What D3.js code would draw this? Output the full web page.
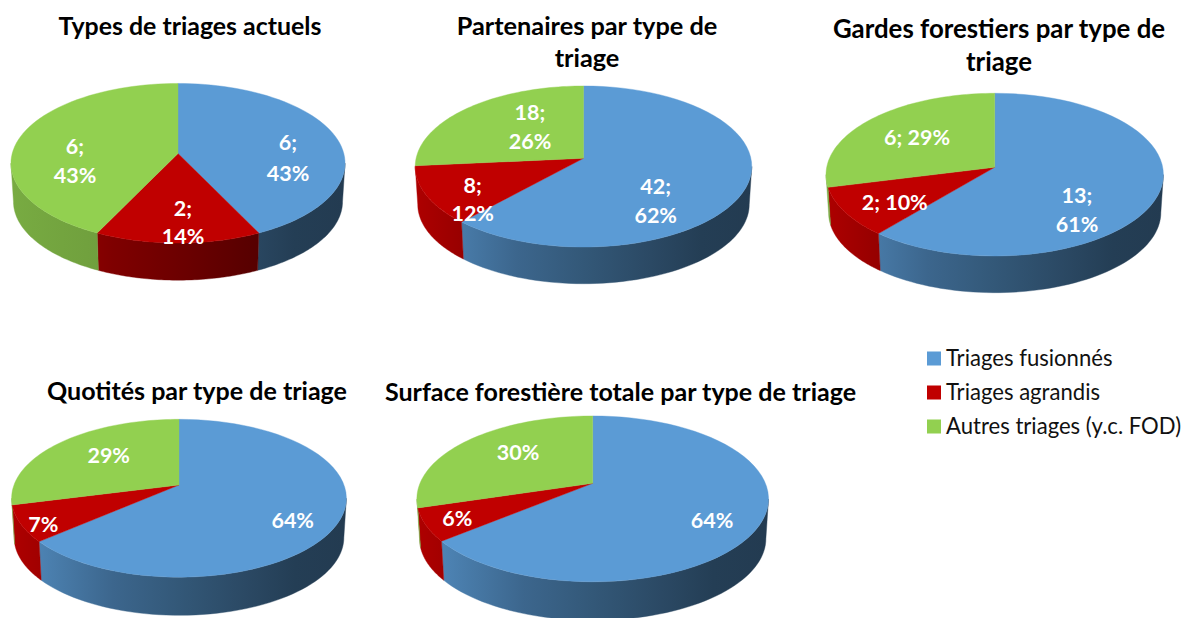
<!DOCTYPE html>
<html><head><meta charset="utf-8">
<script src="https://cdn.jsdelivr.net/npm/d3@7/dist/d3.min.js"></script>
<style>html,body{margin:0;padding:0;background:#fff}svg{display:block}text{font-family:Lato,"Open Sans",sans-serif}</style>
</head><body><svg id="c" width="1184" height="618"></svg>
<script>
const categories = ["Triages fusionnés", "Triages agrandis", "Autres triages (y.c. FOD)"];
const colors = ["#5b9bd5", "#c00000", "#92d050"];
const valuesTypes = [6, 2, 6];
const valuesPartenaires = [42, 8, 18];
const valuesGardes = [12.9, 2.1, 6.1];
const valuesQuotites = [63.6, 7.4, 29];
const valuesSurface = [64, 6.3, 29.7];

const charts = [
 {values:valuesTypes, title:["Types de triages actuels"], tx:190, ty:[26], ts:24.9,
  cx:178, cy:153.5, R:165.8, S:78.6, k:.122, d:38.5,
  labels:[[[288,142,"v;"],[288,173,"p"]],[[183,208,"v;"],[183,236,"p"]],[[75,146,"v;"],[75,175,"p"]]]},
 {values:valuesPartenaires, title:["Partenaires par type de","triage"], tx:587, ty:[26,58], ts:25.3,
  cx:583.5, cy:158.3, R:167.4, S:79.7, k:.102, d:38,
  labels:[[[655.7,186.7,"v;"],[655.7,215,"p"]],[[472.7,185,"v;"],[472.7,213,"p"]],[[530,112.7,"v;"],[530,141,"p"]]]},
 {values:valuesGardes, title:["Gardes forestiers par type de","triage"], tx:999, ty:[29,62], ts:25.8,
  cx:994.7, cy:167.3, R:168, S:80.7, k:.0903, d:38,
  labels:[[[1077,195,"v;"],[1077,224,"p"]],[[894.7,202.7,"v; p"]],[[917,137,"v; p"]]]},
 {values:valuesQuotites, title:["Quotités par type de triage"], tx:197, ty:[391], ts:25.05,
  cx:179, cy:485, R:165, S:76.7, k:.168, d:39.5,
  labels:[[[292.7,520.7,"p"]],[[43.3,524.3,"p"]],[[108.7,455,"p"]]]},
 {values:valuesSurface, title:["Surface forestière totale par type de triage"], tx:620.5, ty:[392], ts:25.06,
  cx:592.7, cy:483.3, R:172.7, S:80, k:.188, d:40,
  labels:[[[712,520.7,"p"]],[[457.3,518.7,"p"]],[[518,452.7,"p"]]]}
];

const svg = d3.select("#c");
const defs = svg.append("defs");
const pieGen = d3.pie().sort(null);
const shadeDark = d3.scaleLinear().domain([0,.3,.85,1]).range([.9,.66,.40,.38]);
const shadeGreen = d3.scaleLinear().domain([0,.3,.85,1]).range([.82,.76,.45,.42]);
const wallShade = [shadeDark, shadeDark, shadeGreen];

charts.forEach((c,ci)=>{
  const arcs = pieGen(c.values);
  const total = d3.sum(c.values);
  const xs = d3.scaleLinear().domain([-1,1]).range([c.cx-c.R,c.cx+c.R]);
  const ys = d3.scaleLinear().domain([-1,1]).range([c.cy+c.S,c.cy-c.S]);
  // Perspective projection of the unit circle at clockwise angle a
  const proj = (a,r=1,lift=0,scale=1)=>{
    const u=r*Math.sin(a), v=r*Math.cos(a), w=1+c.k*v;
    return [c.cx+(xs(u/w)-c.cx)*scale, c.cy+lift+(ys(v/w)-c.cy)*scale];
  };
  const scaleB = .985;
  const g = svg.append("g");
  const xL=c.cx-c.R, xW=2*c.R;
  colors.forEach((col,i)=>{
    const lg = defs.append("linearGradient").attr("id",`side${ci}_${i}`)
      .attr("gradientUnits","userSpaceOnUse").attr("x1",xL).attr("x2",xL+xW).attr("y1",0).attr("y2",0);
    const base=d3.rgb(col);
    [0,.15,.3,.5,.7,.85,1].forEach(t=>{
      const f=wallShade[i](t);
      lg.append("stop").attr("offset",t).attr("stop-color",d3.rgb(base.r*f,base.g*f,base.b*f).formatHex());
    });
  });
  const line = d3.line();
  const samp = (a0,a1,fn)=>d3.range(0,61).map(i=>fn(a0+(a1-a0)*i/60));
  // The visible wall runs between the silhouette points of the projected rim
  const rimR = Math.PI/2+Math.asin(c.k), rimL = Math.PI*1.5-Math.asin(c.k);
  arcs.forEach((s,i)=>{
    const a0=Math.max(s.startAngle,rimR), a1=Math.min(s.endAngle,rimL);
    if(a1<=a0) return;
    const top=samp(a0,a1,a=>proj(a));
    const bot=samp(a1,a0,a=>proj(a,1,c.d,scaleB));
    g.append("path").attr("d",line(top.concat(bot))+"Z").attr("fill",`url(#side${ci}_${i})`)
      .attr("stroke",`url(#side${ci}_${i})`).attr("stroke-width",.4);
  });
  arcs.forEach((s,i)=>{
    const pts=[[c.cx,c.cy]].concat(samp(s.startAngle,s.endAngle,a=>proj(a)));
    g.append("path").attr("d",line(pts)+"Z").attr("fill",colors[i]).attr("stroke",colors[i]).attr("stroke-width",.4);
  });
  c.labels.forEach((lines,i)=>{
    const pct=Math.round(c.values[i]/total*100)+"%";
    lines.forEach(([x,y,t])=>{
      g.append("text").attr("x",x).attr("y",y).attr("dy",".36em").attr("text-anchor","middle")
       .attr("fill","#fff").attr("font-weight",700).attr("font-size",21.5)
       .text(t.replace("v",Math.round(c.values[i])).replace("p",pct));
    });
  });
  c.title.forEach((t,i)=>{
    g.append("text").attr("x",c.tx).attr("y",c.ty[i]).attr("dy",".36em").attr("text-anchor","middle")
     .attr("fill","#000").attr("font-weight",700).attr("font-size",c.ts).text(t);
  });
});

const legend = svg.append("g");
const ly = d3.scalePoint().domain(categories).range([358.5,426.5]);
categories.forEach((n,i)=>{
  legend.append("rect").attr("x",927).attr("y",ly(n)-7).attr("width",14).attr("height",14).attr("fill",colors[i]);
  legend.append("text").attr("x",946).attr("y",ly(n)).attr("dy",".36em").attr("font-size",22.1).attr("fill","#111").text(n);
});
</script></body></html>
